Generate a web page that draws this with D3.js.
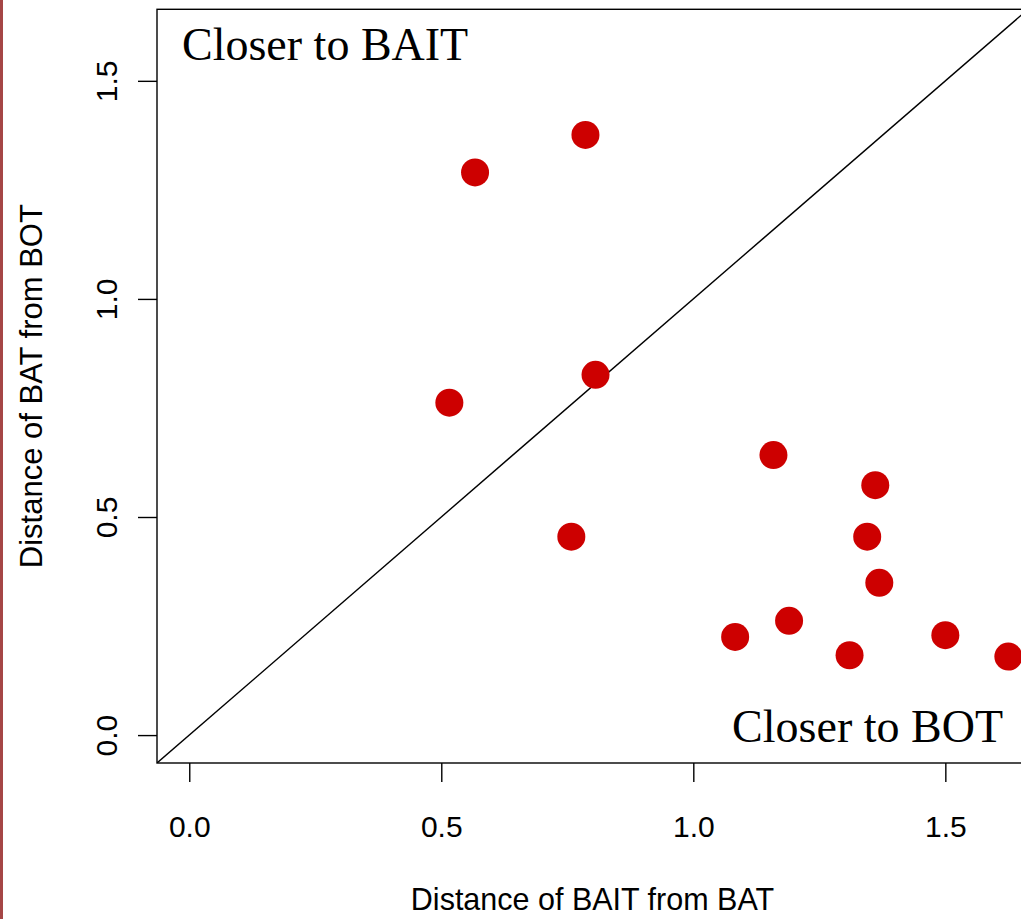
<!DOCTYPE html>
<html>
<head>
<meta charset="utf-8">
<script src="https://cdn.jsdelivr.net/npm/d3@7"></script>
<style>
  body { margin: 0; background: white; overflow: hidden; }
  svg { display: block; }
</style>
</head>
<body>
<svg></svg>
<script>
// distance of BAIT from BAT (x) vs distance of BAT from BOT (y)
const baitFromBat = [0.567, 0.786, 0.516, 0.806, 0.758, 1.159, 1.361, 1.345, 1.369, 1.190, 1.083, 1.310, 1.500, 1.625];
const batFromBot  = [1.290, 1.376, 0.762, 0.826, 0.455, 0.642, 0.573, 0.455, 0.349, 0.262, 0.225, 0.183, 0.229, 0.180];
const tickValues = [0, 0.5, 1.0, 1.5];
const lim = [0, 1.6];

const width = 1021;
const height = 919;
const svg = d3.select("svg")
              .attr("width", width)
              .attr("height", height);

// R style 4% padding on the limits
const pad = (lim[1] - lim[0]) * 0.04;
const dom = [lim[0] - pad, lim[1] + pad];

const plotLeft = 157, plotRight = 1028, plotTop = 9.3, plotBottom = 763;

const x = d3.scaleLinear().domain(dom).range([plotLeft, plotRight]);
const y = d3.scaleLinear().domain(dom).range([plotBottom, plotTop]);

const points = baitFromBat.map((v, i) => ({x: v, y: batFromBot[i]}));

// left page edge strip
svg.append("rect")
   .attr("x", 0).attr("y", 0)
   .attr("width", 3).attr("height", height)
   .attr("fill", "#a54646");

svg.append("clipPath").attr("id", "plotclip")
   .append("rect")
   .attr("x", plotLeft).attr("y", plotTop)
   .attr("width", plotRight - plotLeft).attr("height", plotBottom - plotTop);

const plot = svg.append("g").attr("clip-path", "url(#plotclip)");

// y = x line
plot.append("line")
    .attr("x1", x(dom[0])).attr("y1", y(dom[0]))
    .attr("x2", x(dom[1])).attr("y2", y(dom[1]))
    .attr("stroke", "black")
    .attr("stroke-width", 1.4);

plot.selectAll("circle")
    .data(points)
    .enter()
    .append("circle")
    .attr("cx", d => x(d.x))
    .attr("cy", d => y(d.y))
    .attr("r", 14)
    .attr("fill", "#cd0000");

// box
svg.append("rect")
   .attr("x", plotLeft).attr("y", plotTop)
   .attr("width", plotRight - plotLeft).attr("height", plotBottom - plotTop)
   .attr("fill", "none")
   .attr("stroke", "black")
   .attr("stroke-width", 1.4);

const fmt = d3.format(".1f");

const xAxis = svg.append("g")
   .attr("transform", `translate(0,${plotBottom})`)
   .call(d3.axisBottom(x).tickValues(tickValues).tickSize(19).tickFormat(fmt));
xAxis.select(".domain").remove();
xAxis.selectAll("line").attr("stroke-width", 1.4);
xAxis.selectAll("text")
     .attr("y", 73.7)
     .attr("dy", null)
     .style("font-family", "'Liberation Sans', Arial, sans-serif")
     .style("font-size", "30px")
     .attr("fill", "black");

const yAxis = svg.append("g")
   .attr("transform", `translate(${plotLeft},0)`)
   .call(d3.axisLeft(y).tickValues(tickValues).tickSize(19).tickFormat(fmt));
yAxis.select(".domain").remove();
yAxis.selectAll("line").attr("stroke-width", 1.4);
yAxis.selectAll("text")
     .attr("transform", "rotate(-90)")
     .attr("x", 0)
     .attr("y", -40)
     .attr("dy", null)
     .style("text-anchor", "middle")
     .style("font-family", "'Liberation Sans', Arial, sans-serif")
     .style("font-size", "30px")
     .attr("fill", "black");

// axis titles
svg.append("text")
   .attr("x", (plotLeft + plotRight) / 2)
   .attr("y", 910)
   .attr("text-anchor", "middle")
   .style("font-family", "'Liberation Sans', Arial, sans-serif")
   .style("font-size", "30.5px")
   .text("Distance of BAIT from BAT");

svg.append("text")
   .attr("transform", `translate(42,${(plotTop + plotBottom) / 2}) rotate(-90)`)
   .attr("text-anchor", "middle")
   .style("font-family", "'Liberation Sans', Arial, sans-serif")
   .style("font-size", "31px")
   .text("Distance of BAT from BOT");

// region labels
svg.append("text")
   .attr("x", 182)
   .attr("y", 60)
   .style("font-family", "'Liberation Serif', 'Times New Roman', serif")
   .style("font-size", "46px")
   .text("Closer to BAIT");

svg.append("text")
   .attr("x", 1003)
   .attr("y", 742)
   .attr("text-anchor", "end")
   .style("font-family", "'Liberation Serif', 'Times New Roman', serif")
   .style("font-size", "46px")
   .text("Closer to BOT");
</script>
</body>
</html>
